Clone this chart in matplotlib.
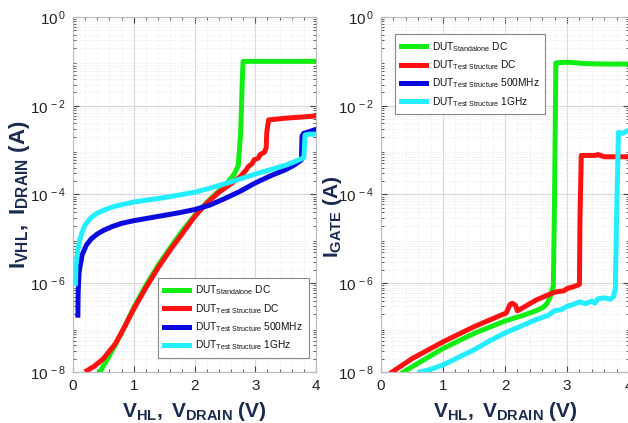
import numpy as np
import matplotlib
matplotlib.use("Agg")
import matplotlib.pyplot as plt
from matplotlib.ticker import FixedLocator, FixedFormatter, MultipleLocator, NullFormatter

plt.rcParams['font.family'] = ['Liberation Sans', 'DejaVu Sans']
plt.rcParams['mathtext.fontset'] = 'custom'
plt.rcParams['mathtext.rm'] = 'Liberation Sans'
plt.rcParams['mathtext.it'] = 'Liberation Sans'
plt.rcParams['mathtext.bf'] = 'Liberation Sans:bold'

# ---------------- data (log10 of current) ----------------
# Left panel: I_VHL, I_DRAIN
l_green_v = [0.44, 0.55, 0.70, 0.85, 1.00, 1.20, 1.40, 1.60, 1.80, 2.00, 2.20, 2.40, 2.55, 2.65, 2.72, 2.76, 2.79, 2.80, 4.00]
l_green_log = [-8.0, -7.75, -7.38, -6.98, -6.55, -6.05, -5.6, -5.2, -4.82, -4.48, -4.18, -3.92, -3.72, -3.55, -3.35, -2.6, -1.3, -1.0, -1.0]

l_red_v = [0.23, 0.35, 0.50, 0.70, 0.85, 1.00, 1.20, 1.40, 1.60, 1.80, 2.00, 2.20, 2.40, 2.60, 2.75, 2.85, 2.88, 2.95, 2.98, 3.05, 3.08, 3.15, 3.18, 3.19, 3.22, 3.50, 4.00]
l_red_log = [-7.97, -7.87, -7.7, -7.36, -6.98, -6.58, -6.1, -5.65, -5.25, -4.88, -4.5, -4.2, -3.95, -3.76, -3.6, -3.45, -3.38, -3.3, -3.22, -3.18, -3.1, -3.05, -2.95, -2.6, -2.32, -2.28, -2.23]

l_blue_v = [0.08, 0.085, 0.10, 0.15, 0.22, 0.30, 0.40, 0.50, 0.65, 0.80, 1.00, 1.25, 1.50, 1.75, 2.00, 2.25, 2.50, 2.75, 3.00, 3.25, 3.50, 3.65, 3.76, 3.77, 3.80, 3.90, 4.00]
l_blue_log = [-6.72, -6.2, -5.75, -5.36, -5.14, -5.0, -4.89, -4.81, -4.72, -4.65, -4.59, -4.53, -4.47, -4.41, -4.34, -4.24, -4.09, -3.93, -3.74, -3.58, -3.44, -3.33, -3.22, -2.68, -2.62, -2.58, -2.53]

l_cyan_v = [0.04, 0.05, 0.08, 0.11, 0.15, 0.20, 0.30, 0.40, 0.55, 0.70, 1.00, 1.25, 1.50, 1.75, 2.00, 2.25, 2.50, 2.75, 3.00, 3.25, 3.50, 3.65, 3.80, 3.82, 3.90, 4.00]
l_cyan_log = [-6.01, -5.6, -5.25, -5.04, -4.85, -4.68, -4.52, -4.42, -4.33, -4.26, -4.17, -4.12, -4.07, -4.01, -3.95, -3.86, -3.76, -3.65, -3.54, -3.44, -3.34, -3.26, -3.17, -2.66, -2.64, -2.64]

# Right panel: I_GATE
r_green_v = [0.36, 0.60, 1.00, 1.50, 2.00, 2.30, 2.50, 2.62, 2.68, 2.73, 2.78, 2.80, 2.82, 2.85, 3.00, 3.30, 3.60, 4.00]
r_green_log = [-8.0, -7.8, -7.47, -7.13, -6.85, -6.72, -6.62, -6.54, -6.45, -6.3, -6.05, -4.0, -1.04, -1.03, -1.02, -1.05, -1.06, -1.06]

r_red_v = [0.18, 0.50, 1.00, 1.50, 1.90, 2.02, 2.08, 2.12, 2.17, 2.20, 2.23, 2.50, 2.80, 2.95, 3.00, 3.10, 3.20, 3.21, 3.23, 3.45, 3.50, 3.60, 4.00]
r_red_log = [-8.0, -7.7, -7.32, -6.98, -6.74, -6.67, -6.48, -6.45, -6.5, -6.62, -6.6, -6.38, -6.2, -6.17, -6.12, -6.08, -6.03, -4.5, -3.12, -3.12, -3.1, -3.15, -3.15]

r_cyan_v = [0.64, 0.80, 1.00, 1.25, 1.50, 1.75, 2.00, 2.25, 2.50, 2.70, 2.80, 2.90, 3.00, 3.10, 3.20, 3.30, 3.40, 3.45, 3.50, 3.60, 3.70, 3.75, 3.78, 3.80, 3.83, 3.90, 4.00]
r_cyan_log = [-8.0, -7.94, -7.84, -7.67, -7.5, -7.3, -7.12, -6.97, -6.82, -6.72, -6.62, -6.6, -6.52, -6.48, -6.42, -6.46, -6.4, -6.45, -6.35, -6.33, -6.36, -6.3, -6.12, -4.5, -2.6, -2.62, -2.55]

legend_labels = [r'DUT$_{\mathrm{Standalone}}$ DC',
                 r'DUT$_{\mathrm{Test\ Structure}}$ DC',
                 r'DUT$_{\mathrm{Test\ Structure}}$ 500MHz',
                 r'DUT$_{\mathrm{Test\ Structure}}$ 1GHz']
colors = ['#11ee11', '#ff1111', '#0a0ae0', '#22eeff']

ytick_vals = [1e-8, 1e-6, 1e-4, 1e-2, 1e0]
ytick_labels = [r'$10^{\,-8}$', r'$10^{\,-6}$', r'$10^{\,-4}$', r'$10^{\,-2}$', r'$10^{\,0}$']
xtick_vals = [0, 1, 2, 3, 4]

label_color = '#1b2b50'

fig = plt.figure(figsize=(6.28, 4.23), dpi=100)
axL = fig.add_axes([73/628, 1-372/423, 243/628, 355/423])
axR = fig.add_axes([381/628, 1-372/423, 248/628, 355/423])

def style(ax):
    ax.set_yscale('log')
    ax.set_xlim(0, 4)
    ax.set_ylim(1e-8, 1e0)
    ax.yaxis.set_major_locator(FixedLocator(ytick_vals))
    ax.yaxis.set_major_formatter(FixedFormatter(ytick_labels))
    ax.yaxis.set_minor_locator(FixedLocator([m * 10.0**e for e in range(-8, 0) for m in range(2, 10)]))
    ax.yaxis.set_minor_formatter(NullFormatter())
    ax.xaxis.set_major_locator(FixedLocator(xtick_vals))
    ax.xaxis.set_minor_locator(MultipleLocator(0.2))
    ax.grid(True, which='major', color='#d8d8d8', linewidth=0.8)
    ax.grid(True, which='minor', color='#e4e4e4', linewidth=0.6, linestyle=':')
    ax.tick_params(which='both', direction='in', top=True, right=True, colors='#444444', labelcolor='#222222', labelsize=11)
    ax.tick_params(which='major', length=4, pad=5)
    ax.tick_params(which='minor', length=2)
    for s in ax.spines.values():
        s.set_color('#bbbbbb')
        s.set_linewidth(0.8)
    ax.set_axisbelow(True)

lw = 3.6
for ax in (axL, axR):
    style(ax)

axL.plot(l_green_v, 10.0**np.array(l_green_log), color=colors[0], lw=lw, label=legend_labels[0])
axL.plot(l_red_v, 10.0**np.array(l_red_log), color=colors[1], lw=lw, label=legend_labels[1])
axL.plot(l_blue_v, 10.0**np.array(l_blue_log), color=colors[2], lw=lw, label=legend_labels[2])
axL.plot(l_cyan_v, 10.0**np.array(l_cyan_log), color=colors[3], lw=lw, label=legend_labels[3])

axR.plot(r_green_v, 10.0**np.array(r_green_log), color=colors[0], lw=lw, label=legend_labels[0])
axR.plot(r_red_v, 10.0**np.array(r_red_log), color=colors[1], lw=lw, label=legend_labels[1])
axR.plot([], [], color=colors[2], lw=lw, label=legend_labels[2])
axR.plot(r_cyan_v, 10.0**np.array(r_cyan_log), color=colors[3], lw=lw, label=legend_labels[3])

leg_kw = dict(fontsize=7.3, frameon=True, fancybox=False, edgecolor='#888888', framealpha=1,
              handlelength=2.5, handletextpad=0.6, borderpad=0.55, labelspacing=0.45)
lgL = axL.legend(loc='lower right', bbox_to_anchor=(0.99, 0.025), **leg_kw)
lgR = axR.legend(loc='upper left', bbox_to_anchor=(0.036, 0.966), **leg_kw)
for lg in (lgL, lgR):
    lg.get_frame().set_linewidth(0.8)
    for t in lg.get_texts():
        t.set_color('#111111')

axL.set_xlabel(r'$\mathbf{V_{HL},\ V_{DRAIN}}$ (V)', fontsize=15, fontweight='bold', color=label_color, labelpad=5)
axR.set_xlabel(r'$\mathbf{V_{HL},\ V_{DRAIN}}$ (V)', fontsize=15, fontweight='bold', color=label_color, labelpad=5)
axL.set_ylabel(r'$\mathbf{I_{VHL},\ I_{DRAIN}}$ (A)', fontsize=16, fontweight='bold', color=label_color)
axR.set_ylabel(r'$\mathbf{I_{GATE}}$ (A)', fontsize=15, fontweight='bold', color=label_color)
axL.yaxis.set_label_coords(-0.17, 0.5)
axR.yaxis.set_label_coords(-0.15, 0.437)

fig.savefig('out.png', dpi=100)
